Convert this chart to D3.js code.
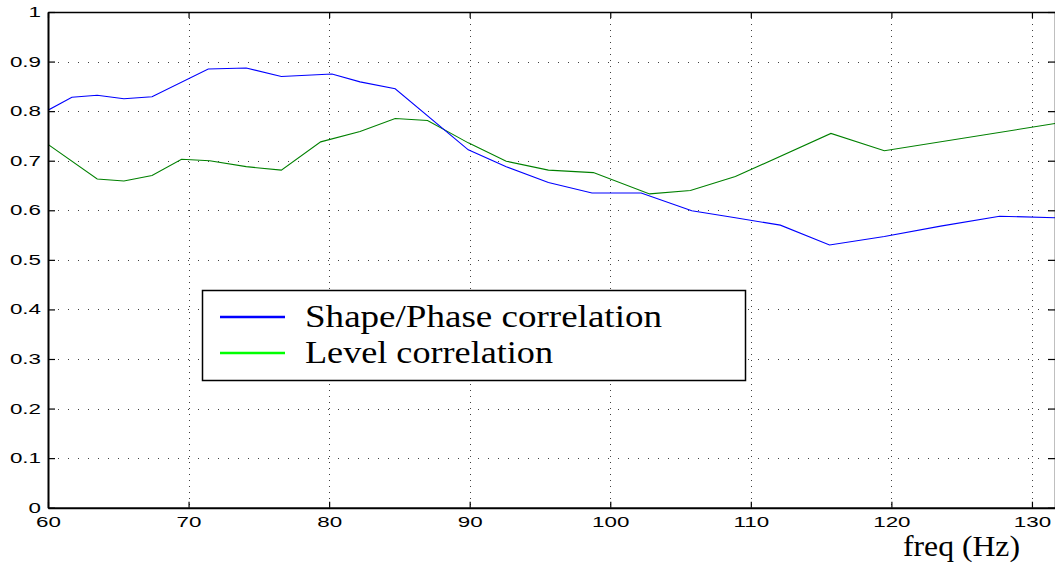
<!DOCTYPE html>
<html><head><meta charset="utf-8">
<script src="https://cdn.jsdelivr.net/npm/d3@7"></script>
<style>body{margin:0;background:#fff;} svg{display:block;}</style>
</head><body>
<svg id="c" width="1055" height="564"></svg>
<script>
// ---- data ----
const shapeFreq = [60, 61.7, 63.5, 65.4, 67.4, 71.4, 74.1, 76.6, 80.2, 82.2, 84.7, 89.9, 92.6, 95.6, 98.7, 102.2, 105.8, 108.9, 112.1, 115.6, 119.5, 123.5, 127.7, 131.64];
const shapeVals = [0.802, 0.828, 0.832, 0.825, 0.829, 0.885, 0.887, 0.870, 0.875, 0.859, 0.845, 0.722, 0.688, 0.656, 0.635, 0.635, 0.599, 0.585, 0.570, 0.530, 0.547, 0.568, 0.588, 0.585];
const levelFreq = [60, 63.5, 65.4, 67.4, 69.5, 71.5, 74.1, 76.6, 79.4, 82.2, 84.7, 87.0, 89.9, 92.6, 95.6, 98.8, 102.8, 105.7, 108.9, 115.7, 119.5, 131.64];
const levelVals = [0.733, 0.663, 0.659, 0.670, 0.703, 0.700, 0.688, 0.681, 0.738, 0.759, 0.785, 0.781, 0.736, 0.699, 0.681, 0.676, 0.633, 0.640, 0.668, 0.755, 0.720, 0.775];
const xDomain = [60, 131.64];
const xTicks = [60, 70, 80, 90, 100, 110, 120, 130];
const yTicks = [0, 0.1, 0.2, 0.3, 0.4, 0.5, 0.6, 0.7, 0.8, 0.9, 1];
const yTickLabels = ["0", "0.1", "0.2", "0.3", "0.4", "0.5", "0.6", "0.7", "0.8", "0.9", "1"];
const seriesNames = ["Shape/Phase correlation", "Level correlation"];
const xLabel = "freq (Hz)";

// ---- chart ----
const svg = d3.select("#c");
const L = 48, R = 1055, T = 12, B = 507.7;
const x = d3.scaleLinear().domain(xDomain).range([L, R]);
const y = d3.scaleLinear().domain([0, 1]).range([B, T]);
const crisp = v => Math.round(v) + 0.5;
const SX = 1.6;

// grid
const grid = svg.append("g");
grid.selectAll("line.v").data(xTicks.slice(1)).join("line")
  .attr("x1", d => crisp(x(d))).attr("x2", d => crisp(x(d)))
  .attr("y1", y(1)).attr("y2", y(0))
  .attr("stroke", "#000").attr("stroke-width", 1).attr("stroke-dasharray", "1,5").attr("opacity", 0.75);
grid.selectAll("line.h").data(yTicks.slice(1, -1)).join("line")
  .attr("y1", d => crisp(y(d))).attr("y2", d => crisp(y(d)))
  .attr("x1", x(60)).attr("x2", R)
  .attr("stroke", "#000").attr("stroke-width", 1).attr("stroke-dasharray", "1,9").attr("opacity", 0.75);

// series lines
svg.append("clipPath").attr("id", "clip").append("rect").attr("x", L).attr("y", T).attr("width", R - L).attr("height", B - T);
const line = d3.line().x(d => x(d[0])).y(d => y(d[1]));
svg.append("path").datum(levelFreq.map((f, i) => [f, levelVals[i]]))
  .attr("d", line).attr("fill", "none").attr("stroke", "#008000").attr("stroke-width", 1.1).attr("clip-path", "url(#clip)");
svg.append("path").datum(shapeFreq.map((f, i) => [f, shapeVals[i]]))
  .attr("d", line).attr("fill", "none").attr("stroke", "#0000ff").attr("stroke-width", 1.1).attr("clip-path", "url(#clip)");

// axes
const fontTick = "'Liberation Sans', Arial, sans-serif";
const gB = svg.append("g").attr("transform", `translate(0,${B})`)
  .call(d3.axisBottom(x).tickValues(xTicks).tickSize(-6).tickSizeOuter(0).tickPadding(9));
const gT = svg.append("g").attr("transform", `translate(0,${T})`)
  .call(d3.axisTop(x).tickValues(xTicks).tickSize(-6).tickSizeOuter(0).tickFormat(""));
const gL = svg.append("g").attr("transform", `translate(${L},0)`)
  .call(d3.axisLeft(y).tickValues(yTicks).tickFormat((d, i) => yTickLabels[i]).tickSize(-7).tickSizeOuter(0));
const gR = svg.append("g").attr("transform", `translate(${R},0)`)
  .call(d3.axisRight(y).tickValues(yTicks).tickSize(-7).tickSizeOuter(0).tickFormat(""));
[gB, gT, gL, gR].forEach(g => {
  g.selectAll(".tick line").attr("stroke", "#000").attr("stroke-width", 1.2);
  g.select(".domain").attr("stroke", "#000");
});
gB.select(".domain").attr("stroke-width", 2);
gL.select(".domain").attr("stroke-width", 2);
gT.select(".domain").attr("stroke-width", 1.5);
gR.select(".domain").attr("stroke-width", 1.5);
gB.selectAll(".tick text").attr("font-family", fontTick).attr("font-size", 14).attr("fill", "#000")
  .attr("transform", `scale(${SX},1)`);
gL.selectAll(".tick text").attr("font-family", fontTick).attr("font-size", 14).attr("fill", "#000")
  .attr("x", -7 / SX).attr("transform", `scale(${SX},1)`);

// x label
svg.append("text").attr("x", 903).attr("y", 556).text(xLabel)
  .attr("font-family", "'Liberation Serif', 'Times New Roman', serif").attr("font-size", 29)
  .attr("textLength", 117).attr("lengthAdjust", "spacingAndGlyphs");

// legend
const leg = svg.append("g");
leg.append("rect").attr("x", 202.5).attr("y", 290.5).attr("width", 543).attr("height", 90)
  .attr("fill", "#fff").attr("stroke", "#000").attr("stroke-width", 1.5);
const legColors = ["#0000ff", "#00ff00"];
const legLens = [357, 248];
seriesNames.forEach((name, i) => {
  const cy = 317 + i * 36;
  leg.append("line").attr("x1", 220).attr("x2", 285).attr("y1", cy).attr("y2", cy)
    .attr("stroke", legColors[i]).attr("stroke-width", 2.5);
  leg.append("text").attr("x", 305).attr("y", cy + 10).text(name)
    .attr("font-family", "'Liberation Serif', 'Times New Roman', serif").attr("font-size", 31)
    .attr("textLength", legLens[i]).attr("lengthAdjust", "spacingAndGlyphs");
});
</script>
</body></html>
